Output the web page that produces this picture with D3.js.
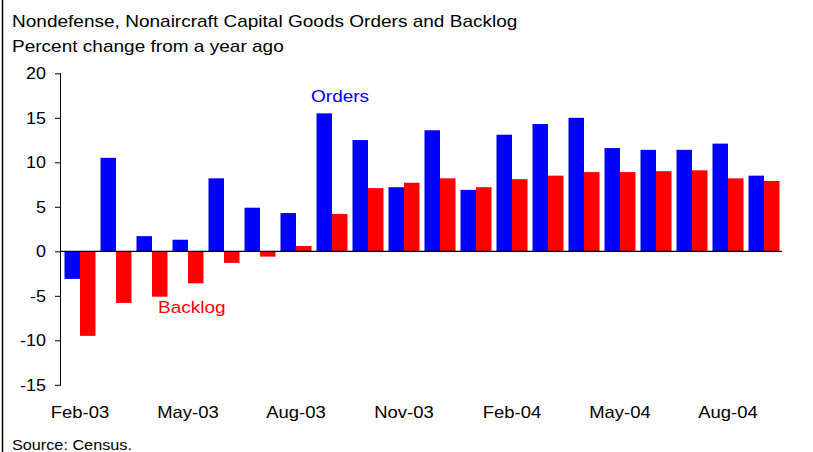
<!DOCTYPE html>
<html>
<head>
<meta charset="utf-8">
<script src="https://cdn.jsdelivr.net/npm/d3@7"></script>
<style>
  html, body { margin: 0; padding: 0; background: #fff; }
  svg { display: block; }
  text { font-family: Arial, "Liberation Sans", Helvetica, sans-serif; fill: #000; }
</style>
</head>
<body>
<svg id="chart" width="813" height="452"></svg>
<script>
// Monthly year-over-year percent changes, Feb-03 through Sep-04
const months = ["Feb-03","Mar-03","Apr-03","May-03","Jun-03","Jul-03","Aug-03","Sep-03","Oct-03","Nov-03",
                "Dec-03","Jan-04","Feb-04","Mar-04","Apr-04","May-04","Jun-04","Jul-04","Aug-04","Sep-04"];
const orders  = [-3.1, 10.5, 1.7, 1.3, 8.2, 4.9, 4.3, 15.5, 12.5, 7.2,
                 13.6, 6.9, 13.1, 14.3, 15.0, 11.6, 11.4, 11.4, 12.1, 8.5];
const backlog = [-9.5, -5.8, -5.1, -3.6, -1.3, -0.6, 0.6, 4.2, 7.1, 7.7,
                 8.2, 7.2, 8.1, 8.5, 8.9, 8.9, 9.0, 9.1, 8.2, 7.9];
const seriesNames = ["Orders", "Backlog"];
const seriesColors = ["#0000ff", "#ff0000"];
const yTicks = [-15, -10, -5, 0, 5, 10, 15, 20];
const xTickLabels = ["Feb-03", "May-03", "Aug-03", "Nov-03", "Feb-04", "May-04", "Aug-04"];

const svg = d3.select("#chart");
const SX = 1.12; // text is drawn slightly wide

function label(sel, x, y, str, size, anchor, color) {
  return sel.append("text")
    .attr("transform", `translate(${x},${y}) scale(${SX},1)`)
    .attr("text-anchor", anchor || "start")
    .style("font-size", size + "px")
    .style("fill", color || "#000")
    .text(str);
}

// left frame rule
svg.append("line")
  .attr("x1", 2.5).attr("x2", 2.5).attr("y1", 0).attr("y2", 452)
  .attr("stroke", "#000").attr("stroke-width", 1.5);

// titles
label(svg, 12, 27, "Nondefense, Nonaircraft Capital Goods Orders and Backlog", 17);
label(svg, 12, 52, "Percent change from a year ago", 17);

const axisX = 61;
const x = d3.scaleBand().domain(months).range([62, 782]).paddingInner(0.139).paddingOuter(0.0694);
const xs = d3.scaleBand().domain(seriesNames).range([0, x.bandwidth()]);
const y = d3.scaleLinear().domain([-15, 20]).range([384.8, 73.3]);

// bars
const seriesData = [orders, backlog];
seriesNames.forEach((name, si) => {
  svg.append("g").selectAll("rect")
    .data(seriesData[si].map((v, i) => ({ m: months[i], v })))
    .join("rect")
    .attr("x", d => x(d.m) + xs(name))
    .attr("width", xs.bandwidth())
    .attr("y", d => y(Math.max(0, d.v)))
    .attr("height", d => Math.abs(y(d.v) - y(0)))
    .attr("fill", seriesColors[si]);
});

// y axis
const yAxis = d3.axisLeft(y).tickValues(yTicks).tickSize(6).tickFormat("");
const gy = svg.append("g").attr("transform", `translate(${axisX},0)`).call(yAxis);
gy.select(".domain").attr("stroke", "#000").attr("d", `M-0.5,${y(20)}V${y(-15)}`);
gy.selectAll(".tick line").attr("stroke", "#000");
yTicks.forEach(t => label(svg, 46, y(t) + 5.8, String(t), 16, "end"));

// zero line
svg.append("line")
  .attr("x1", axisX).attr("x2", 782)
  .attr("y1", y(0)).attr("y2", y(0))
  .attr("stroke", "#000").attr("stroke-width", 1.3);

// category labels
xTickLabels.forEach(m => label(svg, x(m) + x.bandwidth() / 2, 418, m, 16.5, "middle"));

// series labels
label(svg, 311, 101.7, "Orders", 17, "start", seriesColors[0]);
label(svg, 158, 312.7, "Backlog", 17, "start", seriesColors[1]);

// source
label(svg, 12, 450, "Source: Census.", 14.5);
</script>
</body>
</html>
